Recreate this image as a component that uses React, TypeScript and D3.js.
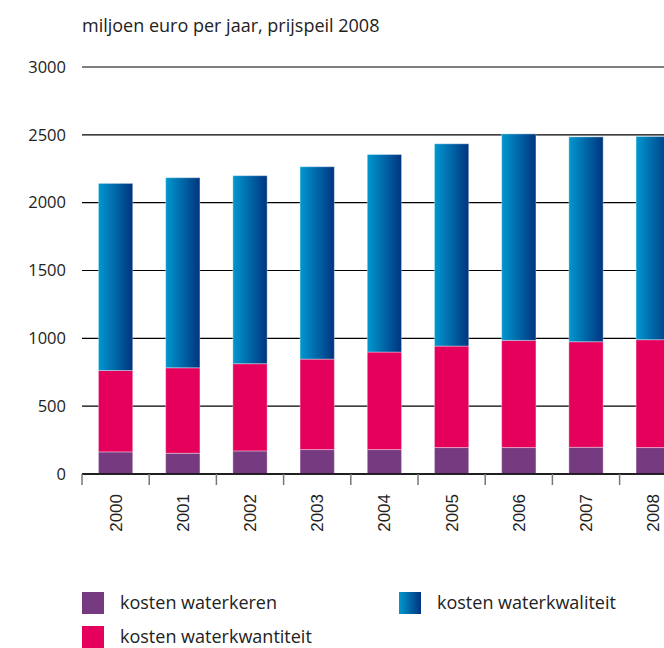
import * as React from "react";
import * as d3 from "d3";

const years = ["2000", "2001", "2002", "2003", "2004", "2005", "2006", "2007", "2008"];
const waterkeren = [163, 153, 170, 180, 180, 195, 195, 197, 195];
const waterkwantiteit = [600, 630, 643, 667, 719, 748, 790, 778, 795];
const waterkwaliteit = [1379, 1401, 1386, 1418, 1456, 1491, 1522, 1510, 1498];
const yTicks = [0, 500, 1000, 1500, 2000, 2500, 3000];

const seriesKeys = ["keren", "kwantiteit", "kwaliteit"];
const colors: Record<string, string> = {
  keren: "#763a80",
  kwantiteit: "#e4005b",
  kwaliteit: "url(#blueGrad)",
};

const width = 664;
const height = 648;
const left = 82;
const top = 67;
const bottom = 474;

export default function App() {
  const table = years.map((y, i) => ({
    year: y,
    keren: waterkeren[i],
    kwantiteit: waterkwantiteit[i],
    kwaliteit: waterkwaliteit[i],
  }));

  const x = d3
    .scaleBand()
    .domain(years)
    .range([left, left + 67.2 * years.length])
    .paddingInner(0.49)
    .paddingOuter(0.245);

  const y = d3.scaleLinear().domain([0, 3000]).range([bottom, top]);

  const stacked = d3.stack<any>().keys(seriesKeys)(table);

  const step = x.step();

  return (
    <svg
      width={width}
      height={height}
      style={{ position: "absolute", left: 0, top: 0 }}
    >
      <defs>
        <linearGradient id="blueGrad" x1="0" x2="1" y1="0" y2="0">
          <stop offset="0%" stopColor="#0098cf" />
          <stop offset="100%" stopColor="#00347f" />
        </linearGradient>
      </defs>
      <rect width={width} height={height} fill="#fff" />

      <text
        x={82}
        y={32}
        fontFamily="'Open Sans', sans-serif"
        fontSize={18}
        fill="#222"
      >
        miljoen euro per jaar, prijspeil 2008
      </text>

      {yTicks.map((t) => (
        <g key={t}>
          <line x1={left} x2={width} y1={y(t)} y2={y(t)} stroke="#000" strokeWidth={1.2} />
          <text
            x={66}
            y={y(t)}
            dy="0.35em"
            textAnchor="end"
            fontFamily="'Open Sans', sans-serif"
            fontSize={16.5}
            fill="#222"
          >
            {t}
          </text>
        </g>
      ))}

      {stacked.map((s) => (
        <g key={s.key}>
          {s.map((d, i) => (
            <rect
              key={i}
              x={x(years[i])}
              y={y(d[1])}
              width={x.bandwidth()}
              height={y(d[0]) - y(d[1])}
              fill={colors[s.key]}
              stroke="rgba(255,255,255,0.35)"
              strokeWidth={1}
            />
          ))}
        </g>
      ))}

      <line x1={left} x2={width} y1={bottom} y2={bottom} stroke="#000" strokeWidth={1.5} />
      {years.map((yr, i) => (
        <line
          key={yr}
          x1={left + i * step}
          x2={left + i * step}
          y1={bottom}
          y2={bottom + 11}
          stroke="#777"
          strokeWidth={1.5}
        />
      ))}
      {years.map((yr) => {
        const cx = (x(yr) as number) + x.bandwidth() / 2;
        return (
          <text
            key={yr}
            transform={`translate(${cx + 6},${494}) rotate(-90)`}
            textAnchor="end"
            fontFamily="'Liberation Sans', Arial, sans-serif"
            fontSize={17}
            fill="#222"
          >
            {yr}
          </text>
        );
      })}

      {[
        { key: "keren", label: "kosten waterkeren", lx: 82, ly: 592 },
        { key: "kwantiteit", label: "kosten waterkwantiteit", lx: 82, ly: 626 },
        { key: "kwaliteit", label: "kosten waterkwaliteit", lx: 399, ly: 592 },
      ].map((l) => (
        <g key={l.key}>
          <rect x={l.lx} y={l.ly} width={22} height={22} fill={colors[l.key]} />
          <text
            x={l.lx + 38}
            y={l.ly + 17}
            fontFamily="'Open Sans', sans-serif"
            fontSize={18}
            fill="#222"
          >
            {l.label}
          </text>
        </g>
      ))}
    </svg>
  );
}
